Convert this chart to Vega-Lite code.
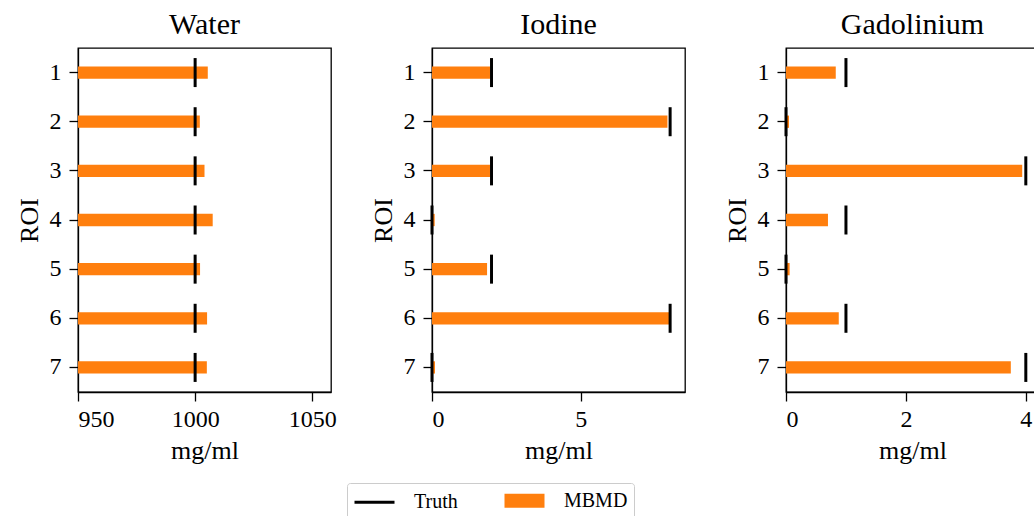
{
  "$schema": "https://vega.github.io/schema/vega-lite/v6.json",
  "padding": {"left": 15, "top": 9, "right": 0, "bottom": 0},
  "datasets": {
    "roi": [
      {"material": "Water", "roi": 1, "series": "MBMD", "value": 1005.4},
      {"material": "Water", "roi": 2, "series": "MBMD", "value": 1002.0},
      {"material": "Water", "roi": 3, "series": "MBMD", "value": 1004.0},
      {"material": "Water", "roi": 4, "series": "MBMD", "value": 1007.5},
      {"material": "Water", "roi": 5, "series": "MBMD", "value": 1002.1},
      {"material": "Water", "roi": 6, "series": "MBMD", "value": 1005.1},
      {"material": "Water", "roi": 7, "series": "MBMD", "value": 1005.0},
      {"material": "Water", "roi": 1, "series": "Truth", "value": 1000},
      {"material": "Water", "roi": 2, "series": "Truth", "value": 1000},
      {"material": "Water", "roi": 3, "series": "Truth", "value": 1000},
      {"material": "Water", "roi": 4, "series": "Truth", "value": 1000},
      {"material": "Water", "roi": 5, "series": "Truth", "value": 1000},
      {"material": "Water", "roi": 6, "series": "Truth", "value": 1000},
      {"material": "Water", "roi": 7, "series": "Truth", "value": 1000},
      {"material": "Iodine", "roi": 1, "series": "MBMD", "value": 1.96},
      {"material": "Iodine", "roi": 2, "series": "MBMD", "value": 7.91},
      {"material": "Iodine", "roi": 3, "series": "MBMD", "value": 1.96},
      {"material": "Iodine", "roi": 4, "series": "MBMD", "value": 0.09},
      {"material": "Iodine", "roi": 5, "series": "MBMD", "value": 1.85},
      {"material": "Iodine", "roi": 6, "series": "MBMD", "value": 7.98},
      {"material": "Iodine", "roi": 7, "series": "MBMD", "value": 0.1},
      {"material": "Iodine", "roi": 1, "series": "Truth", "value": 2},
      {"material": "Iodine", "roi": 2, "series": "Truth", "value": 8},
      {"material": "Iodine", "roi": 3, "series": "Truth", "value": 2},
      {"material": "Iodine", "roi": 4, "series": "Truth", "value": 0},
      {"material": "Iodine", "roi": 5, "series": "Truth", "value": 2},
      {"material": "Iodine", "roi": 6, "series": "Truth", "value": 8},
      {"material": "Iodine", "roi": 7, "series": "Truth", "value": 0},
      {"material": "Gadolinium", "roi": 1, "series": "MBMD", "value": 0.83},
      {"material": "Gadolinium", "roi": 2, "series": "MBMD", "value": 0.05},
      {"material": "Gadolinium", "roi": 3, "series": "MBMD", "value": 3.94},
      {"material": "Gadolinium", "roi": 4, "series": "MBMD", "value": 0.7},
      {"material": "Gadolinium", "roi": 5, "series": "MBMD", "value": 0.06},
      {"material": "Gadolinium", "roi": 6, "series": "MBMD", "value": 0.88},
      {"material": "Gadolinium", "roi": 7, "series": "MBMD", "value": 3.75},
      {"material": "Gadolinium", "roi": 1, "series": "Truth", "value": 1},
      {"material": "Gadolinium", "roi": 2, "series": "Truth", "value": 0},
      {"material": "Gadolinium", "roi": 3, "series": "Truth", "value": 4},
      {"material": "Gadolinium", "roi": 4, "series": "Truth", "value": 1},
      {"material": "Gadolinium", "roi": 5, "series": "Truth", "value": 0},
      {"material": "Gadolinium", "roi": 6, "series": "Truth", "value": 1},
      {"material": "Gadolinium", "roi": 7, "series": "Truth", "value": 4}
    ]
  },
  "data": {"name": "roi"},
  "bounds": "flush",
  "spacing": 101,
  "resolve": {"scale": {"x": "independent", "y": "independent", "color": "shared"}, "legend": {"color": "shared"}},
  "hconcat": [
    {
      "width": 253, "height": 344,
      "title": {"text": "Water"},
      "transform": [{"filter": "datum.material === 'Water'"}],
      "encoding": {
        "x": {"field": "value", "type": "quantitative", "scale": {"domain": [950, 1058], "nice": false, "zero": false}, "axis": {"values": [950, 1000, 1050], "format": "d", "title": "mg/ml"}},
        "y": {"field": "roi", "type": "ordinal", "scale": {"paddingInner": 0, "paddingOuter": 0}, "axis": {"title": "ROI", "labelAngle": 0}},
        "color": {"field": "series", "type": "nominal", "scale": {"domain": ["Truth", "MBMD"], "range": ["black", "#ff7f0e"]},
          "legend": {"orient": "none", "direction": "horizontal", "legendX": 269, "legendY": 435, "title": null,
            "encode": {"symbols": {"update": {
              "shape": {"signal": "datum.value === 'Truth' ? 'M-2,0H2' : 'M-2,-0.7H2V0.7H-2Z'"},
              "stroke": {"signal": "datum.value === 'Truth' ? 'black' : 'transparent'"},
              "strokeWidth": {"value": 3},
              "fill": {"signal": "datum.value === 'Truth' ? 'transparent' : '#ff7f0e'"},
              "opacity": {"value": 1}}}}}}
      },
      "layer": [
        {"mark": {"type": "bar", "clip": true, "height": {"band": 0.25}}, "transform": [{"filter": "datum.series === 'MBMD'"}]},
        {"mark": {"type": "tick", "thickness": 3, "size": 29, "opacity": 1}, "transform": [{"filter": "datum.series === 'Truth'"}]}
      ]
    },
    {
      "width": 253, "height": 344,
      "title": {"text": "Iodine"},
      "transform": [{"filter": "datum.material === 'Iodine'"}],
      "encoding": {
        "x": {"field": "value", "type": "quantitative", "scale": {"domain": [0, 8.5], "nice": false, "zero": false}, "axis": {"values": [0, 5], "title": "mg/ml"}},
        "y": {"field": "roi", "type": "ordinal", "scale": {"paddingInner": 0, "paddingOuter": 0}, "axis": {"title": "ROI", "labelAngle": 0}},
        "color": {"field": "series", "type": "nominal", "scale": {"domain": ["Truth", "MBMD"], "range": ["black", "#ff7f0e"]},
          "legend": {"orient": "none", "direction": "horizontal", "legendX": 269, "legendY": 435, "title": null,
            "encode": {"symbols": {"update": {
              "shape": {"signal": "datum.value === 'Truth' ? 'M-2,0H2' : 'M-2,-0.7H2V0.7H-2Z'"},
              "stroke": {"signal": "datum.value === 'Truth' ? 'black' : 'transparent'"},
              "strokeWidth": {"value": 3},
              "fill": {"signal": "datum.value === 'Truth' ? 'transparent' : '#ff7f0e'"},
              "opacity": {"value": 1}}}}}}
      },
      "layer": [
        {"mark": {"type": "bar", "clip": true, "height": {"band": 0.25}}, "transform": [{"filter": "datum.series === 'MBMD'"}]},
        {"mark": {"type": "tick", "thickness": 3, "size": 29, "opacity": 1}, "transform": [{"filter": "datum.series === 'Truth'"}]}
      ]
    },
    {
      "width": 253, "height": 344,
      "title": {"text": "Gadolinium"},
      "transform": [{"filter": "datum.material === 'Gadolinium'"}],
      "encoding": {
        "x": {"field": "value", "type": "quantitative", "scale": {"domain": [0, 4.22], "nice": false, "zero": false}, "axis": {"values": [0, 2, 4], "title": "mg/ml"}},
        "y": {"field": "roi", "type": "ordinal", "scale": {"paddingInner": 0, "paddingOuter": 0}, "axis": {"title": "ROI", "labelAngle": 0}},
        "color": {"field": "series", "type": "nominal", "scale": {"domain": ["Truth", "MBMD"], "range": ["black", "#ff7f0e"]},
          "legend": {"orient": "none", "direction": "horizontal", "legendX": 269, "legendY": 435, "title": null,
            "encode": {"symbols": {"update": {
              "shape": {"signal": "datum.value === 'Truth' ? 'M-2,0H2' : 'M-2,-0.7H2V0.7H-2Z'"},
              "stroke": {"signal": "datum.value === 'Truth' ? 'black' : 'transparent'"},
              "strokeWidth": {"value": 3},
              "fill": {"signal": "datum.value === 'Truth' ? 'transparent' : '#ff7f0e'"},
              "opacity": {"value": 1}}}}}}
      },
      "layer": [
        {"mark": {"type": "bar", "clip": true, "height": {"band": 0.25}}, "transform": [{"filter": "datum.series === 'MBMD'"}]},
        {"mark": {"type": "tick", "thickness": 3, "size": 29, "opacity": 1}, "transform": [{"filter": "datum.series === 'Truth'"}]}
      ]
    }
  ],
  "config": {
    "font": "Liberation Serif",
    "view": {"stroke": "black", "strokeWidth": 1.3},
    "title": {"fontSize": 30, "fontWeight": "normal", "color": "black", "offset": 8},
    "axis": {
      "grid": false, "domainColor": "black", "domainWidth": 1.3, "tickColor": "black", "tickWidth": 1.3, "tickSize": 9,
      "labelColor": "black", "labelFontSize": 24, "titleColor": "black", "titleFontSize": 26, "titleFontWeight": "normal"
    },
    "axisY": {"titlePadding": 7, "labelPadding": 8},
    "axisX": {"titlePadding": 6, "labelPadding": 6},
    "legend": {"labelFontSize": 20, "labelColor": "black", "symbolSize": 400, "symbolOffset": 10, "labelOffset": 28, "columnPadding": 40, "padding": 6, "strokeColor": "#cccccc", "cornerRadius": 3, "fillColor": "white"}
  }
}
